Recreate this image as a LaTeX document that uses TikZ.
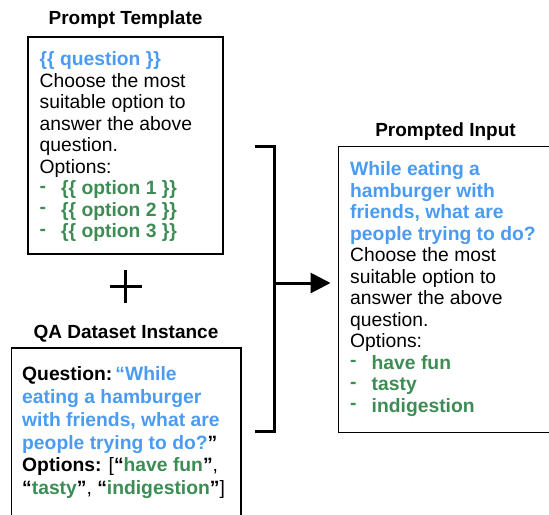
\documentclass[tikz,border=0pt]{standalone}
\usepackage{fontspec}
\setmainfont{Liberation Sans}
\usetikzlibrary{arrows.meta}

\definecolor{qblue}{RGB}{74,155,242}
\definecolor{optgreen}{RGB}{61,140,84}

% one bulleted option line: a small raised dash, then the option text
\newcommand{\optline}[1]{\makebox[21.5bp][l]{\raisebox{2.5bp}{-}}#1}

\tikzset{
  panel/.style={draw=black, line width=1.6bp, anchor=north west, inner sep=0, outer sep=0},
  heading/.style={anchor=base, inner sep=0, font=\fontsize{19bp}{22bp}\selectfont\bfseries},
  body/.style={anchor=north west, inner sep=0, align=left, font=\fontsize{19.3bp}{21.5bp}\selectfont},
  bodywide/.style={body, font=\fontsize{19.3bp}{22.8bp}\selectfont},
  bracket/.style={line width=3bp},
}

\begin{document}
\begin{tikzpicture}[x=1bp, y=-1bp]
\useasboundingbox (0,0) rectangle (549,515);
\clip (0,0) rectangle (549,515);

% ---- prompt template ----
\node[heading] (tpltitle) at (125.5,24.5) {Prompt Template};
\node[panel, minimum width=195bp, minimum height=217bp] (tpl) at (28,37) {};
\node[body] (tpltext) at (39.5,50.45) {%
  \strut{\color{qblue}\bfseries \{\{ question \}\}}\\
  Choose the most\\
  suitable option to\\
  answer the above\\
  question.\\
  Options:\\
  {\color{optgreen}\bfseries\optline{\{\{ option 1 \}\}}}\\
  {\color{optgreen}\bfseries\optline{\{\{ option 2 \}\}}}\\
  {\color{optgreen}\bfseries\optline{\{\{ option 3 \}\}}}};

% ---- plus sign ----
\coordinate (plus) at (125.5,286.5);
\draw[line width=2.2bp] ([xshift=-16bp]plus) -- ([xshift=16bp]plus);
\draw[line width=2.2bp] ([yshift=-16.5bp]plus) -- ([yshift=16.5bp]plus);

% ---- dataset instance ----
\node[heading] (qatitle) at (126,338.5) {QA Dataset Instance};
\node[panel, minimum width=229.5bp, minimum height=190bp] (qa) at (11.5,348) {};
\node[bodywide] (qatext) at (22,364.5) {%
  \strut\textbf{Question:}\,{\color{qblue}\bfseries “While}\\
  {\color{qblue}\bfseries eating a hamburger}\\
  {\color{qblue}\bfseries with friends, what are}\\
  {\color{qblue}\bfseries people trying to do?}\textbf{”}\\
  \textbf{Options:} [\textbf{“}{\color{optgreen}\bfseries have fun}\textbf{”},\\
  \textbf{“}{\color{optgreen}\bfseries tasty}\textbf{”}, \textbf{“}{\color{optgreen}\bfseries indigestion}\textbf{”}]};

% ---- bracket joining both inputs ----
\coordinate (brtopend) at (255,146.7);
\coordinate (brtop) at (274,146.7);
\coordinate (brbot) at (274,431.7);
\coordinate (brbotend) at (255,431.7);
\draw[bracket] (brtopend) -- (brtop) -- (brbot) -- (brbotend);

% ---- prompted input ----
\node[heading] (outtitle) at (445.5,137) {Prompted Input};
\node[panel, minimum width=240bp, minimum height=286bp] (out) at (338.5,146.5) {};
\node[body] (outtext) at (350,160.45) {%
  \strut{\color{qblue}\bfseries While eating a}\\
  {\color{qblue}\bfseries hamburger with}\\
  {\color{qblue}\bfseries friends, what are}\\
  {\color{qblue}\bfseries people trying to do?}\\
  Choose the most\\
  suitable option to\\
  answer the above\\
  question.\\
  Options:\\
  {\color{optgreen}\bfseries\optline{have fun}}\\
  {\color{optgreen}\bfseries\optline{tasty}}\\
  {\color{optgreen}\bfseries\optline{indigestion}}};

% ---- arrow from bracket into the prompted input ----
\coordinate (join) at (274,283);
\draw[line width=3bp, -{Triangle[length=20bp,width=20bp]}, shorten >=8bp]
  (join) -- (join -| out.west);
\end{tikzpicture}
\end{document}
